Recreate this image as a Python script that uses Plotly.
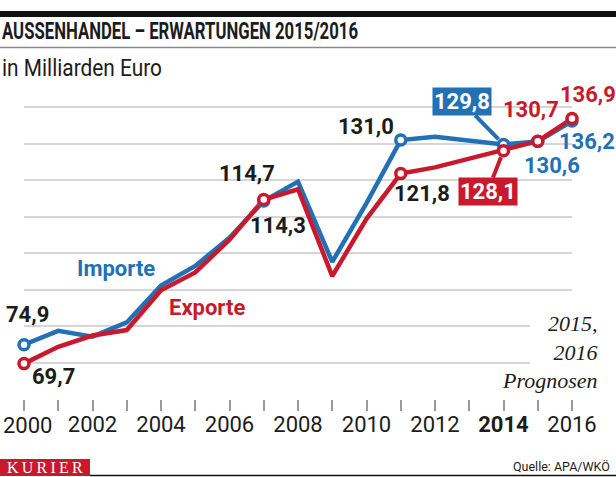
import plotly.graph_objects as go

# ---------------- data ----------------
years = list(range(2000, 2017))
importe = [74.9, 78.7, 77.1, 81.0, 91.1, 96.5, 104.2, 114.3, 119.6, 97.6,
           113.7, 131.0, 131.9, 130.7, 129.8, 130.6, 136.2]
exporte = [69.7, 74.3, 77.4, 78.9, 89.8, 94.7, 103.7, 114.7, 117.5, 93.7,
           109.4, 121.8, 123.5, 125.8, 128.1, 130.7, 136.9]
marker_years = [2000, 2007, 2011, 2014, 2015, 2016]
tick_years = list(range(2000, 2017))
# first label (2000) is drawn separately, nudged right so it stays inside the page
tick_labels = ["" if (y % 2 or y == 2000) else ("<b>%d</b>" % y if y == 2014 else str(y))
               for y in tick_years]
first_year_label = "2000"
grid_vals = [60, 70, 80, 90, 100, 110, 120, 130, 140]

BLUE = "#2271b5"
RED = "#c8192d"
DARK = "#1c1c1c"
NUM = "Roboto, Liberation Sans, sans-serif"
SERIF = "Liberation Serif, DejaVu Serif, serif"

W, H = 616, 477
L, R, T, B = 24, 44, 89, 78
PW, PH = W - L - R, H - T - B


def px(x):
    return (x - L) / PW


def py(y):
    return (T + PH - y) / PH


def fmt(v):
    return ("%.1f" % v).replace(".", ",")


fig = go.Figure()

fig.add_trace(go.Scatter(x=years, y=importe, mode="lines", line=dict(color=BLUE, width=4.5),
                         cliponaxis=False, hoverinfo="skip"))
fig.add_trace(go.Scatter(x=years, y=exporte, mode="lines", line=dict(color=RED, width=4.5),
                         cliponaxis=False, hoverinfo="skip"))

imp_m = [importe[years.index(y)] for y in marker_years]
exp_m = [exporte[years.index(y)] for y in marker_years]
fig.add_trace(go.Scatter(x=marker_years, y=imp_m, mode="markers",
                         marker=dict(size=10, color="white", line=dict(color=BLUE, width=3.5)),
                         cliponaxis=False, hoverinfo="skip"))
fig.add_trace(go.Scatter(x=marker_years, y=exp_m, mode="markers",
                         marker=dict(size=10, color="white", line=dict(color=RED, width=3.5)),
                         cliponaxis=False, hoverinfo="skip"))

ann = []


def lab(year, series, color, dx, dy, size=22):
    v = series[years.index(year)]
    ann.append(dict(x=year, y=v, xref="x", yref="y", text="<b>%s</b>" % fmt(v), showarrow=False,
                    xanchor="center", yanchor="middle",
                    xshift=dx, yshift=dy, font=dict(family=NUM, size=size, color=color)))


lab(2000, importe, DARK, 3, 30)
lab(2000, exporte, DARK, 29, -12.5)
lab(2007, exporte, DARK, -17, 26)
lab(2007, importe, DARK, 14, -24.5)
lab(2011, importe, DARK, -35, 14)
lab(2011, exporte, DARK, 21, -20)
lab(2015, exporte, RED, -7, 31.5)
lab(2016, exporte, RED, 16, 24.5)
lab(2016, importe, BLUE, 15, -20)
lab(2015, importe, BLUE, 14, -24)

v = importe[years.index(2014)]
ann.append(dict(x=2014, y=v, xref="x", yref="y", text="<b>%s</b>" % fmt(v), showarrow=True,
                ax=-42, ay=-43, arrowhead=0, arrowwidth=4, arrowcolor=BLUE, standoff=7,
                bgcolor=BLUE, borderpad=1, font=dict(family=NUM, size=22, color="white")))
v = exporte[years.index(2014)]
ann.append(dict(x=2014, y=v, xref="x", yref="y", text="<b>%s</b>" % fmt(v), showarrow=True,
                ax=-16, ay=41, arrowhead=0, arrowwidth=4, arrowcolor=RED, standoff=7,
                bgcolor=RED, borderpad=1, font=dict(family=NUM, size=22, color="white")))

ann.append(dict(x=px(116), y=py(268), xref="paper", yref="paper", xanchor="center", yanchor="middle",
                text="<b>Importe</b>", showarrow=False, font=dict(family=NUM, size=22, color=BLUE)))
ann.append(dict(x=px(207), y=py(307), xref="paper", yref="paper", xanchor="center", yanchor="middle",
                text="<b>Exporte</b>", showarrow=False, font=dict(family=NUM, size=22, color=RED)))

ann.append(dict(x=px(600), y=py(352), xref="paper", yref="paper", xanchor="right", yanchor="middle",
                align="right", text="2015,<br>2016<br>Prognosen", showarrow=False,
                font=dict(family=SERIF, size=22, color=DARK, style="italic")))

# first x tick label
ann.append(dict(x=2000, y=py(425), xref="x", yref="paper", xanchor="center", yanchor="middle",
                xshift=3.5, text=first_year_label, showarrow=False,
                font=dict(family=NUM, size=22, color=DARK)))

ann.append(dict(x=px(0), y=py(31), xref="paper", yref="paper", xanchor="left", yanchor="middle",
                text="AUSSENHANDEL – ERWARTUNGEN 2015/2016", showarrow=False,
                font=dict(family=NUM, size=23, weight=700, color=DARK)))
ann.append(dict(x=px(0), y=py(68), xref="paper", yref="paper", xanchor="left", yanchor="middle",
                text="in Milliarden Euro", showarrow=False,
                font=dict(family=NUM, size=23, color=DARK)))
ann.append(dict(x=px(612), y=py(467), xref="paper", yref="paper", xanchor="right", yanchor="middle",
                text="Quelle: APA/WKÖ", showarrow=False,
                font=dict(family=NUM, size=12.5, color=DARK)))
ann.append(dict(x=px(45), y=py(467.5), xref="paper", yref="paper", xanchor="center", yanchor="middle",
                text="K\u2009U\u2009R\u2009I\u2009E\u2009R", showarrow=False,
                font=dict(family=SERIF, size=16, color="white")))

shapes = [
    dict(type="rect", xref="paper", yref="paper", x0=px(0), x1=px(616), y0=py(17), y1=py(11),
         fillcolor="#111111", line=dict(width=0)),
    dict(type="line", xref="paper", yref="paper", x0=px(0), x1=px(616), y0=py(47.5), y1=py(47.5),
         line=dict(color="#8a8a8a", width=1.5)),
    dict(type="line", xref="paper", yref="paper", x0=px(90), x1=px(616), y0=py(475.5), y1=py(475.5),
         line=dict(color="#111111", width=1.5)),
    dict(type="rect", xref="paper", yref="paper", x0=px(0), x1=px(90), y0=py(476), y1=py(459),
         fillcolor="#c8192d", line=dict(width=0)),
    dict(type="rect", xref="paper", yref="paper", x0=px(530), x1=px(576), y0=py(372), y1=py(312),
         fillcolor="white", line=dict(width=0), layer="above"),
]

fig.update_layout(
    width=W, height=H, margin=dict(l=L, r=R, t=T, b=B, autoexpand=False),
    paper_bgcolor="white", plot_bgcolor="white", showlegend=False,
    annotations=ann, shapes=shapes,
    xaxis=dict(range=[2000, 2016], tickmode="array", tickvals=tick_years, ticktext=tick_labels,
               ticks="outside", ticklen=11, tickwidth=1.5, tickcolor="#9a9a9a", automargin=False,
               showgrid=False, zeroline=False, showline=False, ticklabeloverflow="allow",
               ticklabelstandoff=-5,
               tickfont=dict(family=NUM, size=22, color=DARK)),
    yaxis=dict(range=[60, 145], tickmode="array", tickvals=grid_vals, showticklabels=False,
               automargin=False,
               showgrid=True, gridcolor="#d6d6d6", gridwidth=1.5, zeroline=False, showline=False),
)

# condense header text to the narrow widths of the original typeface
post = """
var gd = document.getElementById('{plot_id}');
var specs = [['AUSSENHANDEL', 356, 'start'], ['in Milliarden', 160, 'start']];
gd.querySelectorAll('text.annotation-text').forEach(function (t) {
  var s = t.textContent;
  specs.forEach(function (sp) {
    if (s.indexOf(sp[0]) === 0) {
      var bb = t.getBBox();
      t.setAttribute('text-anchor', sp[2]);
      t.setAttribute('x', sp[2] === 'start' ? bb.x : bb.x + bb.width);
      t.setAttribute('textLength', sp[1]);
      t.setAttribute('lengthAdjust', 'spacingAndGlyphs');
    }
  });
});
"""
fig.write_html("out.html", post_script=post)
